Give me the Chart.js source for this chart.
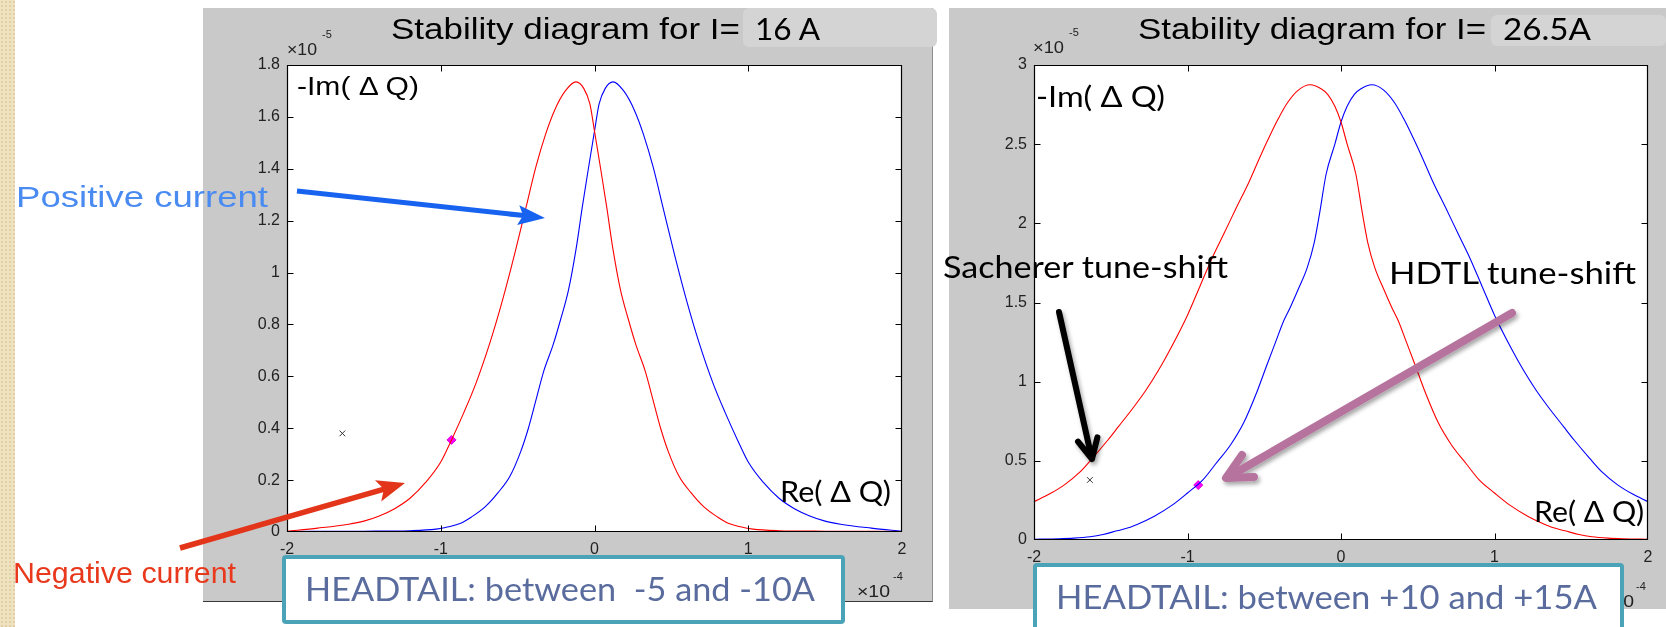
<!DOCTYPE html>
<html><head><meta charset="utf-8">
<script src="https://cdn.jsdelivr.net/npm/chart.js@4.4.1/dist/chart.umd.min.js"></script>
<style>
html,body{margin:0;padding:0;background:#fff;width:1666px;height:627px;overflow:hidden;position:relative;}
#strip{position:absolute;left:0;top:0;width:15px;height:627px;background:#efe2c0;
  background-image:radial-gradient(#e2d0a2 1px, transparent 1.2px);background-size:4px 4px;}
.panel{position:absolute;background:#c9c9c9;}
#pL{left:203px;top:8px;width:729px;height:593px;border-bottom:1px solid #3a3a3a;border-right:1px solid #8f8f8f;}
#pR{left:949px;top:8px;width:717px;height:601px;}
canvas{position:absolute;}
#cL{left:203px;top:8px;}
#cR{left:949px;top:8px;}
svg{position:absolute;left:0;top:0;}
</style>
</head><body>
<div id="strip"></div>
<div class="panel" id="pL"></div>
<div class="panel" id="pR"></div>
<canvas id="cL" width="729" height="593"></canvas>
<canvas id="cR" width="717" height="601"></canvas>
<svg width="1666" height="627" xmlns="http://www.w3.org/2000/svg">
  <defs>
    <filter id="sh" x="-20%" y="-20%" width="140%" height="140%">
      <feDropShadow dx="2" dy="3" stdDeviation="2.2" flood-color="#000" flood-opacity="0.35"/>
    </filter>
  </defs>
  <rect x="743" y="8" width="194" height="39" rx="6" fill="#d4d4d4"/>
  <rect x="1491" y="15" width="175" height="31" rx="6" fill="#d4d4d4"/>
  <text x="391" y="39" font-family="Liberation Sans, Arial" font-size="30" textLength="349" lengthAdjust="spacingAndGlyphs" fill="#000">Stability diagram for I=</text>
  <text x="755" y="40" font-family="Lato" font-size="30" textLength="65" lengthAdjust="spacingAndGlyphs" fill="#000" style="white-space:pre">16 A</text>
  <text x="1138" y="39" font-family="Liberation Sans, Arial" font-size="30" textLength="348" lengthAdjust="spacingAndGlyphs" fill="#000">Stability diagram for I=</text>
  <text x="1503" y="40" font-family="Lato" font-size="30" textLength="88" lengthAdjust="spacingAndGlyphs" fill="#000">26.5A</text>
  <text x="287" y="55" font-family="Liberation Sans, Arial" font-size="16" textLength="30" lengthAdjust="spacingAndGlyphs" fill="#222">×10</text>
  <text x="322" y="38" font-family="Liberation Sans, Arial" font-size="11" fill="#222">-5</text>
  <text x="1033" y="53" font-family="Liberation Sans, Arial" font-size="16" textLength="31" lengthAdjust="spacingAndGlyphs" fill="#222">×10</text>
  <text x="1069" y="36" font-family="Liberation Sans, Arial" font-size="11" fill="#222">-5</text>
  <text x="857" y="597" font-family="Liberation Sans, Arial" font-size="16" textLength="33" lengthAdjust="spacingAndGlyphs" fill="#222">×10</text>
  <text x="893" y="580" font-family="Liberation Sans, Arial" font-size="11" fill="#222">-4</text>
  <text x="1601" y="607" font-family="Liberation Sans, Arial" font-size="16" textLength="33" lengthAdjust="spacingAndGlyphs" fill="#222">×10</text>
  <text x="1636" y="590" font-family="Liberation Sans, Arial" font-size="11" fill="#222">-4</text>
  <text x="297" y="95" font-family="Liberation Sans, Arial" font-size="26" textLength="122" lengthAdjust="spacingAndGlyphs" fill="#000" style="white-space:pre">-Im( Δ Q)</text>
  <text x="1036" y="107" font-family="Lato" font-size="28" textLength="129" lengthAdjust="spacingAndGlyphs" fill="#000" style="white-space:pre">-Im( Δ Q)</text>
  <text x="780" y="502" font-family="Lato" font-size="28" textLength="111" lengthAdjust="spacingAndGlyphs" fill="#000" style="white-space:pre">Re( Δ Q)</text>
  <text x="1534" y="522" font-family="Lato" font-size="28" textLength="110" lengthAdjust="spacingAndGlyphs" fill="#000" style="white-space:pre">Re( Δ Q)</text>
  <text x="16" y="207" font-family="Liberation Sans, Arial" font-size="30" textLength="252" lengthAdjust="spacingAndGlyphs" fill="#4a8bf2">Positive current</text>
  <text x="13" y="583" font-family="Liberation Sans, Arial" font-size="29" textLength="223" lengthAdjust="spacingAndGlyphs" fill="#e8391d">Negative current</text>
  <text x="943" y="278" font-family="Lato" font-size="30" textLength="285" lengthAdjust="spacingAndGlyphs" fill="#000">Sacherer tune-shift</text>
  <text x="1389" y="284" font-family="Lato" font-size="30" textLength="247" lengthAdjust="spacingAndGlyphs" fill="#000">HDTL tune-shift</text>
  <line x1="297" y1="191" x2="524" y2="215.6" stroke="#1862f0" stroke-width="5"/>
  <polygon points="545,218 517.1,225 523.1,215.6 519.3,205.2" fill="#1862f0"/>
  <line x1="180" y1="548" x2="385" y2="488.8" stroke="#e2351a" stroke-width="5.5"/>
  <polygon points="405,483 381.2,501.4 383.9,489.1 375,480.2" fill="#e2351a"/>
  <g filter="url(#sh)" stroke="#000" stroke-width="6" stroke-linecap="round" stroke-linejoin="round" fill="none">
    <line x1="1059" y1="312" x2="1091" y2="455"/>
    <polyline points="1078,441.7 1092,459 1097.4,437.3"/>
  </g>
  <g filter="url(#sh)" stroke="#b5739e" stroke-width="8" stroke-linecap="round" stroke-linejoin="round" fill="none">
    <line x1="1512" y1="313" x2="1230" y2="476"/>
    <polyline points="1242,455 1226,478 1254,477"/>
  </g>
  <rect x="284" y="557" width="559" height="65" fill="#fff" stroke="#4aa3b6" stroke-width="4" rx="2"/>
  <text x="305" y="601" font-family="Lato" font-size="33" textLength="510" lengthAdjust="spacingAndGlyphs" fill="#5a6c9e" style="white-space:pre">HEADTAIL: between  -5 and -10A</text>
  <rect x="1035" y="565" width="587" height="80" fill="#fff" stroke="#4aa3b6" stroke-width="4" rx="2"/>
  <text x="1056" y="609" font-family="Lato" font-size="33" textLength="541" lengthAdjust="spacingAndGlyphs" fill="#5a6c9e">HEADTAIL: between +10 and +15A</text>
</svg>
<script>
// ---- data: Re(ΔQ) in units of 1e-4, -Im(ΔQ) in units of 1e-5 ----
const xTicks = [-2, -1, 0, 1, 2];
const yTicksLeft = [0, 0.2, 0.4, 0.6, 0.8, 1, 1.2, 1.4, 1.6, 1.8];
const yTicksRight = [0, 0.5, 1, 1.5, 2, 2.5, 3];

// I = 16 A
const leftRedRe = [-2.0,-1.8,-1.6,-1.5,-1.4,-1.3,-1.2,-1.1,-1.0,-0.93,-0.85,-0.77,-0.68,-0.60,-0.52,-0.45,-0.38,-0.32,-0.26,-0.19,-0.12,-0.07,-0.03,0.0,0.04,0.08,0.12,0.17,0.22,0.27,0.33,0.38,0.43,0.48,0.55,0.63,0.71,0.80,0.87,0.95,1.03,1.2,1.5,2.0];
const leftRedIm = [0.003,0.015,0.03,0.042,0.062,0.09,0.13,0.19,0.27,0.355,0.46,0.575,0.73,0.89,1.07,1.24,1.41,1.53,1.625,1.70,1.735,1.71,1.65,1.545,1.40,1.25,1.09,0.93,0.82,0.72,0.62,0.51,0.40,0.31,0.215,0.15,0.098,0.058,0.034,0.02,0.011,0.005,0.003,0.002];
const leftBlueRe = [-2.0,-1.5,-1.2,-1.03,-0.95,-0.87,-0.80,-0.71,-0.63,-0.55,-0.48,-0.43,-0.38,-0.33,-0.27,-0.22,-0.17,-0.12,-0.08,-0.04,0.0,0.03,0.07,0.12,0.19,0.26,0.32,0.38,0.45,0.52,0.60,0.68,0.77,0.85,0.93,1.0,1.1,1.2,1.3,1.4,1.5,1.6,1.8,2.0];
const leftBlueIm = [0.002,0.003,0.005,0.011,0.02,0.034,0.058,0.098,0.15,0.215,0.31,0.40,0.51,0.62,0.72,0.82,0.93,1.09,1.25,1.40,1.545,1.65,1.71,1.735,1.70,1.625,1.53,1.41,1.24,1.07,0.89,0.73,0.575,0.46,0.355,0.27,0.19,0.13,0.09,0.062,0.042,0.03,0.015,0.003];
const leftCrossRe = [-1.64], leftCrossIm = [0.38];
const leftDiamondRe = [-0.93], leftDiamondIm = [0.355];

// I = 26.5 A
const rightRedRe = [-2.0,-1.9,-1.8,-1.7,-1.62,-1.52,-1.45,-1.35,-1.27,-1.19,-1.115,-1.0,-0.92,-0.84,-0.76,-0.686,-0.60,-0.532,-0.47,-0.409,-0.35,-0.28,-0.2,-0.13,-0.087,-0.04,0.0,0.04,0.097,0.14,0.174,0.22,0.28,0.33,0.373,0.43,0.481,0.55,0.634,0.72,0.817,0.9,1.0,1.1,1.216,1.3,1.373,1.46,1.55,1.634,1.74,1.84,2.0];
const rightRedIm = [0.242,0.29,0.35,0.43,0.516,0.63,0.716,0.84,0.947,1.07,1.2,1.42,1.60,1.78,1.94,2.09,2.26,2.41,2.54,2.66,2.76,2.84,2.875,2.85,2.815,2.74,2.64,2.50,2.31,2.06,1.88,1.72,1.58,1.47,1.385,1.24,1.11,0.93,0.74,0.60,0.48,0.38,0.297,0.22,0.15,0.11,0.08,0.058,0.035,0.021,0.012,0.008,0.005];
const rightBlueRe = [-2.0,-1.84,-1.74,-1.634,-1.55,-1.46,-1.373,-1.3,-1.216,-1.1,-1.0,-0.9,-0.817,-0.72,-0.634,-0.55,-0.481,-0.43,-0.373,-0.33,-0.28,-0.22,-0.174,-0.14,-0.097,-0.04,0.0,0.04,0.087,0.13,0.2,0.28,0.35,0.409,0.47,0.532,0.60,0.686,0.76,0.84,0.92,1.0,1.115,1.19,1.27,1.35,1.45,1.52,1.62,1.7,1.8,1.9,2.0];
const rightBlueIm = [0.005,0.008,0.012,0.021,0.035,0.058,0.08,0.11,0.15,0.22,0.297,0.38,0.48,0.60,0.74,0.93,1.11,1.24,1.385,1.47,1.58,1.72,1.88,2.06,2.31,2.50,2.64,2.74,2.815,2.85,2.875,2.84,2.76,2.66,2.54,2.41,2.26,2.09,1.94,1.78,1.60,1.42,1.2,1.07,0.947,0.84,0.716,0.63,0.516,0.43,0.35,0.29,0.242];
const rightCrossRe = [-1.636], rightCrossIm = [0.379];
const rightDiamondRe = [-0.93], rightDiamondIm = [0.347];

function pts(xs, ys) { return xs.map((x, i) => ({ x: x, y: ys[i] })); }

const frame = {
  id: 'frame',
  beforeDraw(c) {
    const a = c.chartArea, ctx = c.ctx;
    ctx.save(); ctx.fillStyle = '#fff';
    ctx.fillRect(a.left, a.top, a.right - a.left, a.bottom - a.top);
    ctx.restore();
  },
  afterDraw(c) {
    const a = c.chartArea, ctx = c.ctx, sx = c.scales.x, sy = c.scales.y;
    const L = Math.round(a.left) + 0.5, R = Math.round(a.right) - 0.5;
    const T = Math.round(a.top) + 0.5, B = Math.round(a.bottom) - 0.5;
    ctx.save(); ctx.strokeStyle = '#000'; ctx.lineWidth = 1.2;
    ctx.beginPath(); ctx.rect(L, T, R - L, B - T); ctx.stroke();
    ctx.lineWidth = 1;
    ctx.beginPath();
    sx.ticks.forEach(t => {
      const p = Math.round(sx.getPixelForValue(t.value)) + 0.5;
      if (p <= L + 1 || p >= R - 1) return;
      ctx.moveTo(p, B); ctx.lineTo(p, B - 6); ctx.moveTo(p, T); ctx.lineTo(p, T + 6);
    });
    sy.ticks.forEach(t => {
      const p = Math.round(sy.getPixelForValue(t.value)) + 0.5;
      if (p <= T + 1 || p >= B - 1) return;
      ctx.moveTo(L, p); ctx.lineTo(L + 6, p); ctx.moveTo(R, p); ctx.lineTo(R - 6, p);
    });
    ctx.stroke(); ctx.restore();
  }
};

function zeroPad(s) { s.paddingLeft = 0; s.paddingRight = 0; s.paddingTop = 0; s.paddingBottom = 0; }
const tickFont = { family: 'Liberation Sans, Arial', size: 16 };

function makeChart(id, o) {
  return new Chart(document.getElementById(id), {
    type: 'scatter',
    data: { datasets: [
      { data: pts(o.redRe, o.redIm), borderColor: '#ff0000', borderWidth: 1.1, showLine: true, pointRadius: 0, cubicInterpolationMode: 'monotone' },
      { data: pts(o.blueRe, o.blueIm), borderColor: '#0000ff', borderWidth: 1.1, showLine: true, pointRadius: 0, cubicInterpolationMode: 'monotone' },
      { data: pts(o.crossRe, o.crossIm), showLine: false, pointStyle: 'crossRot', pointRadius: 4, borderColor: '#333', borderWidth: 1 },
      { data: pts(o.diaRe, o.diaIm), showLine: false, pointStyle: 'rectRot', pointRadius: 4.5, backgroundColor: '#ff00ff', borderColor: '#dd00dd', borderWidth: 1 }
    ]},
    options: {
      responsive: false, animation: false, devicePixelRatio: 1, events: [],
      layout: { padding: { left: 0, top: 57, right: o.padR, bottom: 0 } },
      plugins: { legend: { display: false }, tooltip: { enabled: false }, title: { display: false } },
      scales: {
        x: {
          type: 'linear', min: -2, max: 2,
          afterBuildTicks: s => { s.ticks = xTicks.map(v => ({ value: v })); },
          afterFit: s => { s.height = 69; zeroPad(s); },
          grid: { display: false, drawTicks: false }, border: { display: false },
          ticks: { font: tickFont, color: '#222', padding: 8, maxRotation: 0, minRotation: 0, autoSkip: false, callback: v => String(v) }
        },
        y: {
          type: 'linear', min: 0, max: o.yMax,
          afterBuildTicks: s => { s.ticks = o.yTicks.map(v => ({ value: v })); },
          afterFit: s => { s.width = o.yW; zeroPad(s); },
          grid: { display: false, drawTicks: false }, border: { display: false },
          ticks: { font: tickFont, color: '#222', padding: 7, autoSkip: false, callback: v => String(v) }
        }
      }
    },
    plugins: [frame]
  });
}

makeChart('cL', { redRe: leftRedRe, redIm: leftRedIm, blueRe: leftBlueRe, blueIm: leftBlueIm,
  crossRe: leftCrossRe, crossIm: leftCrossIm, diaRe: leftDiamondRe, diaIm: leftDiamondIm,
  yTicks: yTicksLeft, yMax: 1.8, yW: 84, padR: 30 });
makeChart('cR', { redRe: rightRedRe, redIm: rightRedIm, blueRe: rightBlueRe, blueIm: rightBlueIm,
  crossRe: rightCrossRe, crossIm: rightCrossIm, diaRe: rightDiamondRe, diaIm: rightDiamondIm,
  yTicks: yTicksRight, yMax: 3, yW: 85, padR: 18 });
</script>
</body></html>
